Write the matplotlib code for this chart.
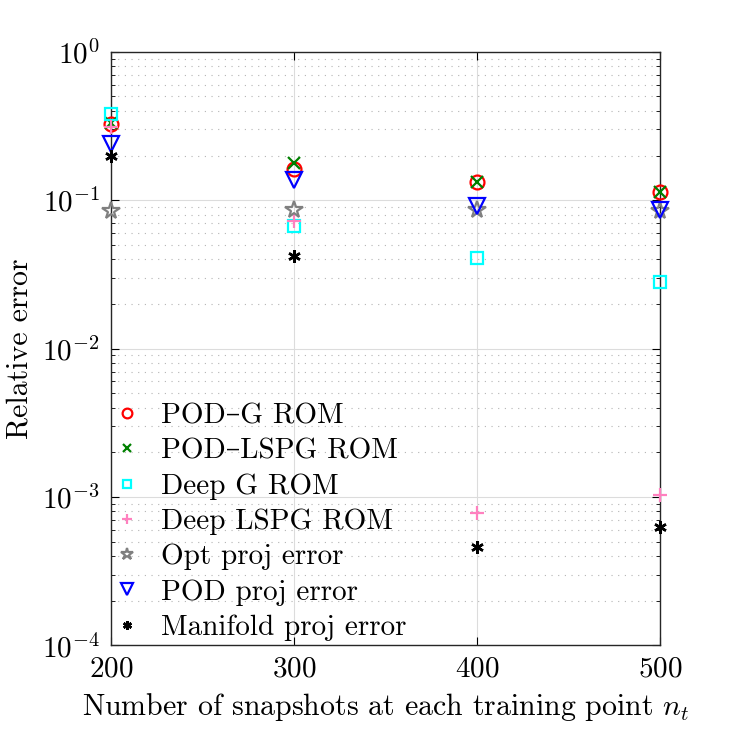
import numpy as np
import matplotlib
matplotlib.use('Agg')
import matplotlib.pyplot as plt
from matplotlib.ticker import LogLocator, NullFormatter

plt.rcParams['font.family'] = ['cmr10', 'DejaVu Serif']
plt.rcParams['mathtext.fontset'] = 'cm'
plt.rcParams['axes.formatter.use_mathtext'] = True

n_snap = [200, 300, 400, 500]
pod_g = [0.327, 0.162, 0.133, 0.114]
pod_lspg = [0.33, 0.178, 0.133, 0.114]
deep_g = [0.38, 0.067, 0.041, 0.028]
deep_lspg = [0.31, 0.072, 7.8e-4, 1.03e-3]
opt_proj = [0.085, 0.086, 0.086, 0.084]
pod_proj = [0.24, 0.137, 0.091, 0.086]
manifold_proj = [0.20, 0.042, 4.6e-4, 6.3e-4]

fig = plt.figure(figsize=(7.3, 7.3), dpi=100)
ax = fig.add_axes([0.152, 0.116, 0.752, 0.813])

ms = 10
kw = dict(ls='none', clip_on=False, zorder=3)
ax.plot(n_snap, pod_g, marker='o', color='red', mfc='none', mew=1.6, ms=ms, label='POD\u2013G ROM', **kw)
ax.plot(n_snap, pod_lspg, marker='x', color=(0, 0.5, 0), mew=1.6, ms=ms * 0.8, label='POD\u2013LSPG ROM', **kw)
ax.plot(n_snap, deep_g, marker='s', color='cyan', mfc='none', mew=1.6, ms=ms * 0.8, label='Deep G ROM', **kw)
ax.plot(n_snap, deep_lspg, marker='+', color=(1, 0.5, 0.75), mew=1.6, ms=ms, label='Deep LSPG ROM', **kw)
ax.plot(n_snap, opt_proj, marker='*', color=(0.5, 0.5, 0.5), mfc='none', mew=1.6, ms=ms * 1.3,
        label='Opt proj error', **kw)
ax.plot(n_snap, pod_proj, marker='v', color='blue', mfc='none', mew=1.6, ms=ms * 1.2, label='POD proj error', **kw)
ax.plot(n_snap, manifold_proj, marker=(6, 2, 0), color='black', mew=1.8, ms=ms * 0.9,
        label='Manifold proj error', **kw)

ax.set_yscale('log')
ax.set_ylim(1e-4, 1)
ax.set_xlim(200, 500)
ax.set_xticks(n_snap)
ax.yaxis.set_major_locator(LogLocator(base=10, numticks=10))
ax.yaxis.set_minor_locator(LogLocator(base=10, subs=np.arange(2, 10), numticks=20))
ax.yaxis.set_minor_formatter(NullFormatter())

ax.grid(True, which='major', color='#dcdcdc', lw=0.8)
ax.grid(True, which='minor', axis='y', color='#b4b4b4', ls=(0, (1, 5)), lw=0.8)
ax.set_axisbelow(True)

ax.tick_params(which='both', direction='in', top=True, right=True, labelsize=21, pad=8)
ax.tick_params(which='major', length=6)
ax.tick_params(which='minor', length=3)
for s in ax.spines.values():
    s.set_linewidth(1.0)
    s.set_color('#262626')

ax.set_xlabel(r'Number of snapshots at each training point $n_t$', fontsize=21.5, labelpad=6)
ax.set_ylabel('Relative error', fontsize=21.5, labelpad=6)

ax.legend(loc='lower left', frameon=False, fontsize=21, handletextpad=0.75,
          labelspacing=0.3, borderaxespad=0.0, borderpad=0.15, handlelength=0.8,
          markerscale=0.7)

fig.savefig('out.png', dpi=100)
